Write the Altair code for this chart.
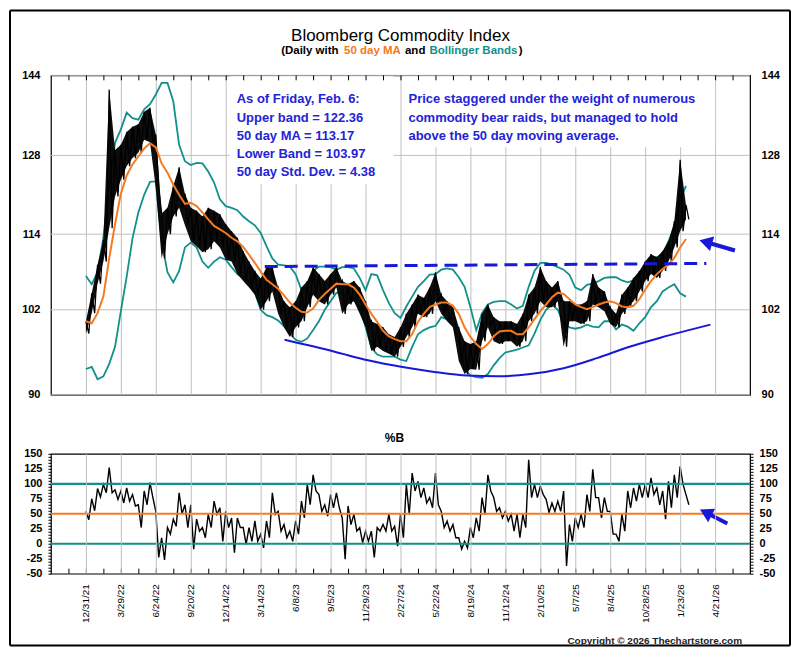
import altair as alt
import pandas as pd

# ---------------- data (x = trading-day index counted from 12/31/21) ----------------
IDX = list(range(0, 1031, 10))

PRICE_HI = [100.3, 104.5, 109, 113, 141, 129, 130, 132.5, 133.5, 134,
            136.5, 137.3, 132, 117.5, 118.5, 122.4, 125.8, 121, 118.5, 118,
            117, 118.5, 118, 117.4, 115.7, 114.5, 113.4, 111.2, 109.5, 108,
            106.8, 108.5, 108.6, 105.4, 103.3, 102.4, 103.3, 105.4, 106.4, 108.6,
            107.5, 106.4, 107.5, 108.6, 106.4, 105.9, 106.4, 105.4, 103.3, 100.3,
            99.9, 99.4, 98.4, 98, 99.4, 101.4, 102.8, 104.3, 103.8, 105.4,
            107.8, 104.3, 103.3, 102.4, 99.4, 97.4, 97, 97.4, 101.4, 102.8,
            100.9, 100.3, 100.3, 100.3, 99.9, 101.4, 104.3, 105.4, 108.6, 106.4,
            105.4, 106.4, 103.3, 103.3, 102.8, 102.8, 103.3, 107.5, 105.4, 104.8,
            102.4, 101.4, 104.3, 105.4, 106.9, 108, 109.5, 110.7, 110.2, 111.2,
            112.8, 116.2, 127.2, 119]
PRICE_LO = [98.5, 101.5, 106, 109.5, 115, 120.5, 123.5, 126, 127.5, 128.5,
            131, 130.5, 122, 110, 114, 117, 118.5, 115.5, 112.8, 112,
            111, 111.5, 112.8, 111.8, 109.8, 109.5, 107.5, 106.4, 105.4, 104.3,
            102, 103.3, 104.8, 101.4, 99.4, 98, 99.4, 100.3, 102.4, 104.3,
            103.3, 102.8, 104.3, 105.4, 101.4, 102.8, 103.3, 101.4, 99.4, 96,
            96.6, 96, 95.6, 95.2, 96.6, 98, 99.4, 101.4, 100.9, 101.4,
            103.3, 101.4, 100.3, 99.4, 94.6, 92.8, 93.5, 93.4, 97.4, 99.4,
            97.4, 97, 97.4, 97.4, 96.6, 97.4, 100.3, 101.4, 103.3, 102.4,
            102.4, 103.3, 96.6, 100.3, 100.3, 99.9, 100.3, 102.8, 102.4, 101.8,
            99.9, 99.4, 101.4, 102.4, 103.3, 104.8, 106.4, 107.5, 106.9, 108,
            109.5, 111.8, 114.5, 116.5]
MA50 = [100.3, 100.0, 101.5, 104, 110, 115.7, 121, 124.3, 126.3, 127.8,
        129.3, 130.3, 129.5, 126.5, 124.8, 122.6, 120.8, 119.2, 119.4, 118.8,
        117.7, 116.5, 115.4, 114.8, 114.2, 113.4, 112.8, 111.9, 110.6, 109.3,
        107.9, 106.6, 105.9, 105.2, 104.2, 103.1, 102.3, 101.7, 101.6, 102.2,
        103.5, 104.4, 105.2, 106, 105.9, 105.9, 105.4, 104.3, 102.8, 101.4,
        100.2, 98.9, 98.1, 97.7, 97.4, 97.4, 98.4, 100.2, 101.4, 102.4,
        102.8, 103.1, 103.1, 102.6, 101.4, 99.4, 98, 97, 96.3, 97,
        98.1, 98.8, 98.9, 98.9, 98.4, 98.4, 99.4, 100.6, 101.8, 102.8,
        103.9, 104.6, 104.4, 103.6, 102.8, 102.4, 102.1, 102.4, 102.8, 103.1,
        103.3, 103, 102.5, 102.4, 102.6, 103.6, 105.1, 106.4, 107.5, 108.3,
        109, 110.1, 111.8, 113.2]
UPPER = [107.2, 105.9, 107.8, 113.4, 122.6, 130.4, 133, 136.3, 135.2, 134.9,
         137, 138, 140, 142.4, 142.4, 138.6, 130, 126.9, 126.2, 126.6,
         126.5, 125, 123, 120, 118.8, 118.5, 118.1, 117, 116.2, 115.5,
         114.2, 112, 110, 109, 108.9, 108.7, 107.5, 105, 105.2, 108,
         108.7, 108.7, 108.6, 108.2, 108.6, 108.6, 108.4, 106.9, 105, 107.5,
         107.3, 105, 103, 101.5, 100.8, 102.5, 104, 105.5, 106.4, 107.4,
         107.5, 108.2, 108.4, 108.2, 107, 105.5, 102.4, 99, 101.5, 102.8,
         103.2, 103.3, 103.3, 102.8, 102.2, 102.6, 105.5, 108, 109.3, 109.3,
         109, 108.6, 108.2, 107.4, 105.4, 105, 105.8, 106, 106.4, 106.9,
         107, 107, 106.5, 106.2, 106.5, 107.5, 109, 110.1, 110.2, 110.7,
         112.8, 115.2, 120, 122.4]
LOWER = [93.5, 93.8, 92.1, 92.5, 94.2, 96.6, 101.8, 107.1, 113.3, 117.7,
         120.8, 123.1, 123.2, 112.8, 107.8, 106.2, 108, 111.8, 112.6, 111.8,
         109.5, 108.5, 109.5, 110.2, 109.8, 108.6, 107.5, 106.9, 106.4, 104.6,
         102, 101.2, 100.9, 100.4, 99.6, 98.5, 97.6, 97.3, 97.8, 99,
         100.3, 102, 103.3, 104.6, 104.5, 103.8, 103.5, 102.5, 99.5, 96.5,
         95.5, 95.2, 95.2, 95.2, 94.8, 94.6, 96.6, 98.4, 99, 99.4,
         99.6, 100.9, 100.6, 99.8, 97.4, 93.5, 92.6, 92.4, 92.3, 92.8,
         94, 95, 95.8, 96, 96.2, 96.5, 96.8, 98.5, 100.5, 102,
         102.8, 102, 100, 99.4, 99.2, 99.4, 99.8, 99.5, 99.4, 100.3,
         100.3, 99.1, 99.8, 99.5, 98.9, 100, 100.9, 102.4, 103.3, 104.8,
         105.4, 105.9, 104.5, 104]
PCTB_HI = [54, 75, 92, 99, 127, 90, 88, 93, 82, 65,
           88, 102, 54, 10, 27, 41, 85, 65, 65, 41,
           27, 49, 71, 60, 54, 43, 43, 27, 27, 38,
           16, 38, 85, 54, 32, 21, 38, 71, 99, 115,
           82, 65, 82, 85, 43, 63, 49, 27, 21, 21,
           27, 32, 49, 29, 49, 99, 118, 104, 93, 77,
           118, 54, 38, 32, 10, 4, 27, 43, 77, 115,
           77, 60, 54, 49, 49, 49, 140, 99, 96, 74,
           68, 71, 88, 32, 43, 49, 82, 124, 77, 77,
           54, 16, 49, 88, 93, 99, 99, 110, 93, 88,
           104, 115, 129, 82]
PCTB_LO = [40, 55, 78, 85, 85, 74, 68, 71, 63, 27,
           65, 77, -23, -27, 16, 29, 50, 27, -9, 21,
           10, 27, 49, 4, 27, -15, 27, -1, 4, 4,
           -7, 10, 49, 21, 10, 4, 16, 43, 65, 88,
           54, 46, 60, 60, -26, 32, 21, 2, 4, -23,
           21, 21, 21, -4, 10, 49, 88, 77, 68, 60,
           65, 27, 21, 10, -9, -7, 10, 21, 49, 88,
           54, 43, 38, 21, 10, 27, 77, 77, 82, 52,
           54, 54, -37, 4, 27, 27, 54, 77, 43, 54,
           16, 4, 21, 60, 71, 77, 77, 82, 65, 41,
           60, 77, 99, 65]

for arr in (PRICE_HI, PRICE_LO, MA50, UPPER, LOWER, PCTB_HI, PCTB_LO):
    assert len(arr) == len(IDX), len(arr)

TICK_LABELS = ["12/31/21", "3/29/22", "6/24/22", "9/20/22", "12/14/22", "3/14/23",
               "6/8/23", "9/5/23", "11/29/23", "2/27/24", "5/22/24", "8/19/24",
               "11/12/24", "2/10/25", "5/7/25", "8/4/25", "10/28/25", "1/23/26",
               "4/21/26"]
TICK_STEP = 60
TICK_VALUES = [i * TICK_STEP for i in range(len(TICK_LABELS))]
MINOR_TICKS = list(range(-30, 1140, 30))
X_DOMAIN = [-60, 1140]
Y_TICKS = [90, 102, 114, 128, 144]
PCTB_LEVELS = [100, 50, 0]

RESIST_T = [307, 1065]
RESIST_V = [108.7, 109.2]
SUPPORT_T = [341, 427, 484, 541, 598, 655, 706, 763, 820, 877, 929, 986, 1072]
SUPPORT_V = [97.6, 95.9, 94.7, 93.8, 93.1, 92.6, 92.5, 92.8, 93.6, 95.0, 96.5, 97.9, 99.8]
ARROW_TOP_T = [1114, 1064]
ARROW_TOP_V = [111.3, 112.7]
ARROW_LOW_T = [1101, 1064]
ARROW_LOW_V = [33.8, 52.2]

TITLE = "Bloomberg Commodity Index"
SUBTITLE = ["(Daily with", "50 day MA", "and", "Bollinger Bands", ")"]
NOTE_LEFT = ["As of Friday, Feb. 6:", "Upper band = 122.36", "50 day MA = 113.17",
             "Lower Band = 103.97", "50 day Std. Dev. = 4.38"]
NOTE_RIGHT = ["Price staggered under the weight of numerous",
              "commodity bear raids, but managed to hold",
              "above the 50 day moving average."]
PANEL2_TITLE = "%B"
COPYRIGHT = "Copyright \u00a9 2026 Thechartstore.com"

# ---------------- styling ----------------
FONT = "Liberation Sans"
TEAL = "#12908b"
ORANGE = "#f47a20"
BLUE = "#1818d8"
TXT_BLUE = "#2323d8"
GRID = "#c0c0c0"
W, H1, H2 = 700, 320, 120

xs = alt.Scale(domain=X_DOMAIN, nice=False, zero=False)
ys1 = alt.Scale(type="log", domain=[90, 144], nice=False)
ys2 = alt.Scale(domain=[-50, 150], nice=False, zero=False)


def zig(idx, hi, lo):
    rows = []
    for t, h, l in zip(idx, hi, lo):
        rows.append({"t": t, "v": h})
        rows.append({"t": t + 5, "v": l})
    return pd.DataFrame(rows)


price_df = zig(IDX, PRICE_HI, PRICE_LO)
pctb_df = zig(IDX, PCTB_HI, PCTB_LO)
bands_df = pd.DataFrame({"t": IDX, "ma": MA50, "up": UPPER, "lo": LOWER,
                         "hi": PRICE_HI, "low": PRICE_LO})
one = pd.DataFrame({"a": [0]})
ticks_df = pd.DataFrame({"t": MINOR_TICKS})
vgrid_df = pd.DataFrame({"g": TICK_VALUES})
vgrid_low_df = pd.DataFrame({"t": TICK_VALUES})
hgrid_df = pd.DataFrame({"h": Y_TICKS})

x_top_axis = alt.Axis(values=TICK_VALUES, labels=False, ticks=False, domain=False,
                      grid=False, title=None)
label_expr = "[" + ",".join("'%s'" % s for s in TICK_LABELS) + "][round(datum.value / %d)]" % TICK_STEP
x_low_axis = alt.Axis(values=TICK_VALUES, labelExpr=label_expr, labelAngle=270,
                      labelFontSize=10, labelPadding=10, labelFlush=False,
                      labelOverlap=False, ticks=False, domain=False, grid=False,
                      title=None, labelColor="black", labelFont=FONT)
XT = alt.X("t:Q", scale=xs, axis=x_top_axis)
XL = alt.X("t:Q", scale=xs, axis=x_low_axis)


def y_axis1(orient):
    return alt.Axis(orient=orient, values=Y_TICKS, format="d", labelFontWeight="bold",
                    labelFontSize=11, labelPadding=11, ticks=False, domain=False,
                    grid=False, title=None,
                    labelOverlap=False, labelColor="black", labelFont=FONT)


def y_axis2(orient):
    return alt.Axis(orient=orient, values=list(range(-50, 151, 5)),
                    labelExpr="datum.value % 25 == 0 ? datum.value : ''",
                    labelFontWeight="bold", labelFontSize=11, labelPadding=6,
                    tickSize=3, tickColor="black", domain=False, grid=False,
                    title=None, labelOverlap=False, labelColor="black", labelFont=FONT)


def txt(text, x, y, **kw):
    return alt.Chart(one).mark_text(text=text, font=FONT, **kw).encode(
        x=alt.value(x), y=alt.value(y))


def frame_rules():
    # outer picture border drawn as four rules (no fill at all)
    segs = [(-41, 740, -65, -65), (-41, 740, 571, 571), (-41, -41, -65, 571), (740, 740, -65, 571)]
    out = []
    for x1, x2, y1, y2 in segs:
        out.append(alt.Chart(one).mark_rule(color="black", strokeWidth=2).encode(
            x=alt.value(x1), x2=alt.value(x2), y=alt.value(y1), y2=alt.value(y2)))
    return out


# ---------------- top panel ----------------
axes_top_l = alt.Chart(bands_df).mark_line(opacity=0).encode(
    x=XT, y=alt.Y("ma:Q", scale=ys1, axis=y_axis1("left")))
axes_top_r = alt.Chart(bands_df).mark_line(opacity=0).encode(
    x=XT, y=alt.Y("ma:Q", scale=ys1, axis=y_axis1("right")))
vgrid_top = alt.Chart(vgrid_df).mark_rule(color=GRID, strokeWidth=1, xOffset=0.5).encode(
    x=alt.X("g:Q", scale=xs, axis=None), y=alt.value(0), y2=alt.value(H1))
hgrid_top = alt.Chart(hgrid_df).mark_rule(color=GRID, strokeWidth=1).encode(
    y=alt.Y("h:Q", scale=ys1, axis=None), x=alt.value(0), x2=alt.value(W))
box_left = alt.Chart(one).mark_rect(color="white").encode(
    x=alt.value(179), x2=alt.value(343), y=alt.value(1), y2=alt.value(109))
box_right = alt.Chart(one).mark_rect(color="white").encode(
    x=alt.value(352), x2=alt.value(665), y=alt.value(1), y2=alt.value(72))
top_ticks = alt.Chart(ticks_df).mark_rule(color="black", strokeWidth=1, xOffset=0.5).encode(
    x=XT, y=alt.value(0), y2=alt.value(5))

upper_line = alt.Chart(bands_df).mark_line(color=TEAL, strokeWidth=1.8).encode(
    x=XT, y=alt.Y("up:Q", scale=ys1, axis=None))
lower_line = alt.Chart(bands_df).mark_line(color=TEAL, strokeWidth=1.8).encode(
    x=XT, y=alt.Y("lo:Q", scale=ys1, axis=None))
price_band = alt.Chart(bands_df).mark_area(color="black", opacity=0.95).encode(
    x=XT, y=alt.Y("low:Q", scale=ys1, axis=None), y2="hi:Q")
price_line = alt.Chart(price_df).mark_line(color="black", strokeWidth=1.3).encode(
    x=XT, y=alt.Y("v:Q", scale=ys1, axis=None))
ma_line = alt.Chart(bands_df).mark_line(color=ORANGE, strokeWidth=2).encode(
    x=XT, y=alt.Y("ma:Q", scale=ys1, axis=None))
resist = alt.Chart(pd.DataFrame({"t": RESIST_T, "v": RESIST_V})).mark_line(
    color=BLUE, strokeWidth=3, strokeDash=[13, 7]).encode(
    x=XT, y=alt.Y("v:Q", scale=ys1, axis=None))
support = alt.Chart(pd.DataFrame({"t": SUPPORT_T, "v": SUPPORT_V})).mark_line(
    color=BLUE, strokeWidth=2, interpolate="monotone").encode(
    x=XT, y=alt.Y("v:Q", scale=ys1, axis=None))
arrow_top_df = pd.DataFrame({"t": ARROW_TOP_T, "v": ARROW_TOP_V})
arrow_top = alt.Chart(arrow_top_df).mark_line(color=BLUE, strokeWidth=4).encode(
    x=XT, y=alt.Y("v:Q", scale=ys1, axis=None))
arrow_top_head = alt.Chart(arrow_top_df.tail(1)).mark_point(
    shape="triangle-up", filled=True, size=230, angle=286, color=BLUE, opacity=1).encode(
    x=XT, y=alt.Y("v:Q", scale=ys1, axis=None))

title_t = txt(TITLE, 350, -39, fontSize=17, align="center", color="black")
SUB_X = [230.5, 293.5, 354.5, 379, 468.5]
SUB_C = ["black", ORANGE, "black", TEAL, "black"]
subs = [txt(s, x, -24.7, fontSize=11.5, fontWeight="bold", align="left", color=c)
        for s, x, c in zip(SUBTITLE, SUB_X, SUB_C)]
note_l = txt("\n".join(NOTE_LEFT), 186, 24, fontSize=13, fontWeight="bold", align="left",
             color=TXT_BLUE, lineBreak="\n", lineHeight=18.3)
note_r = txt("\n".join(NOTE_RIGHT), 358, 24, fontSize=13, fontWeight="bold", align="left",
             color=TXT_BLUE, lineBreak="\n", lineHeight=18.3)

top = alt.layer(axes_top_l, axes_top_r, *frame_rules(), vgrid_top, hgrid_top,
                box_left, box_right, top_ticks, upper_line, lower_line, price_band,
                price_line, ma_line, resist, support, arrow_top, arrow_top_head,
                title_t, *subs, note_l, note_r
                ).resolve_axis(y="independent").properties(width=W, height=H1)

# ---------------- lower panel ----------------
axes_low_l = alt.Chart(pctb_df).mark_line(opacity=0).encode(
    x=XL, y=alt.Y("v:Q", scale=ys2, axis=y_axis2("left")))
axes_low_r = alt.Chart(pctb_df).mark_line(opacity=0).encode(
    x=XL, y=alt.Y("v:Q", scale=ys2, axis=y_axis2("right")))
vgrid_low = alt.Chart(vgrid_low_df).mark_rule(color=GRID, strokeWidth=1, xOffset=0.5).encode(
    x=XL, y=alt.value(0), y2=alt.value(H2))
lev_df = pd.DataFrame({"v": PCTB_LEVELS, "c": [TEAL, ORANGE, TEAL]})
levels = alt.Chart(lev_df).mark_rule(strokeWidth=2.2).encode(
    y=alt.Y("v:Q", scale=ys2, axis=None), x=alt.value(0), x2=alt.value(W),
    color=alt.Color("c:N", scale=None))
pctb_line = alt.Chart(pctb_df).mark_line(color="black", strokeWidth=1.4).encode(
    x=XL, y=alt.Y("v:Q", scale=ys2, axis=None))
low_ticks = alt.Chart(ticks_df).mark_rule(color="black", strokeWidth=1, xOffset=0.5).encode(
    x=XL, y=alt.value(H2 - 5), y2=alt.value(H2))
arrow_low_df = pd.DataFrame({"t": ARROW_LOW_T, "v": ARROW_LOW_V})
arrow_low = alt.Chart(arrow_low_df).mark_line(color=BLUE, strokeWidth=4).encode(
    x=XL, y=alt.Y("v:Q", scale=ys2, axis=None))
arrow_low_head = alt.Chart(arrow_low_df.tail(1)).mark_point(
    shape="triangle-up", filled=True, size=230, angle=297, color=BLUE, opacity=1).encode(
    x=XL, y=alt.Y("v:Q", scale=ys2, axis=None))
pb_title = txt(PANEL2_TITLE, 344, -16, fontSize=12, fontWeight="bold", align="center",
               color="black")
copy_t = txt(COPYRIGHT, 692, 187.7, fontSize=10, fontWeight="bold", align="right",
             color="#222222")

low = alt.layer(axes_low_l, axes_low_r, pctb_line, levels, low_ticks,
                arrow_low, arrow_low_head, pb_title, copy_t, vgrid_low
                ).resolve_axis(y="independent").properties(width=W, height=H2)

chart = alt.vconcat(top, low, spacing=59, bounds="flush").properties(
    padding=0, background="white"
).configure_view(stroke="black", strokeWidth=1.2).configure_axis(
    labelFont=FONT, titleFont=FONT)

chart.save("out.html", embed_options={"renderer": "svg", "actions": False})
